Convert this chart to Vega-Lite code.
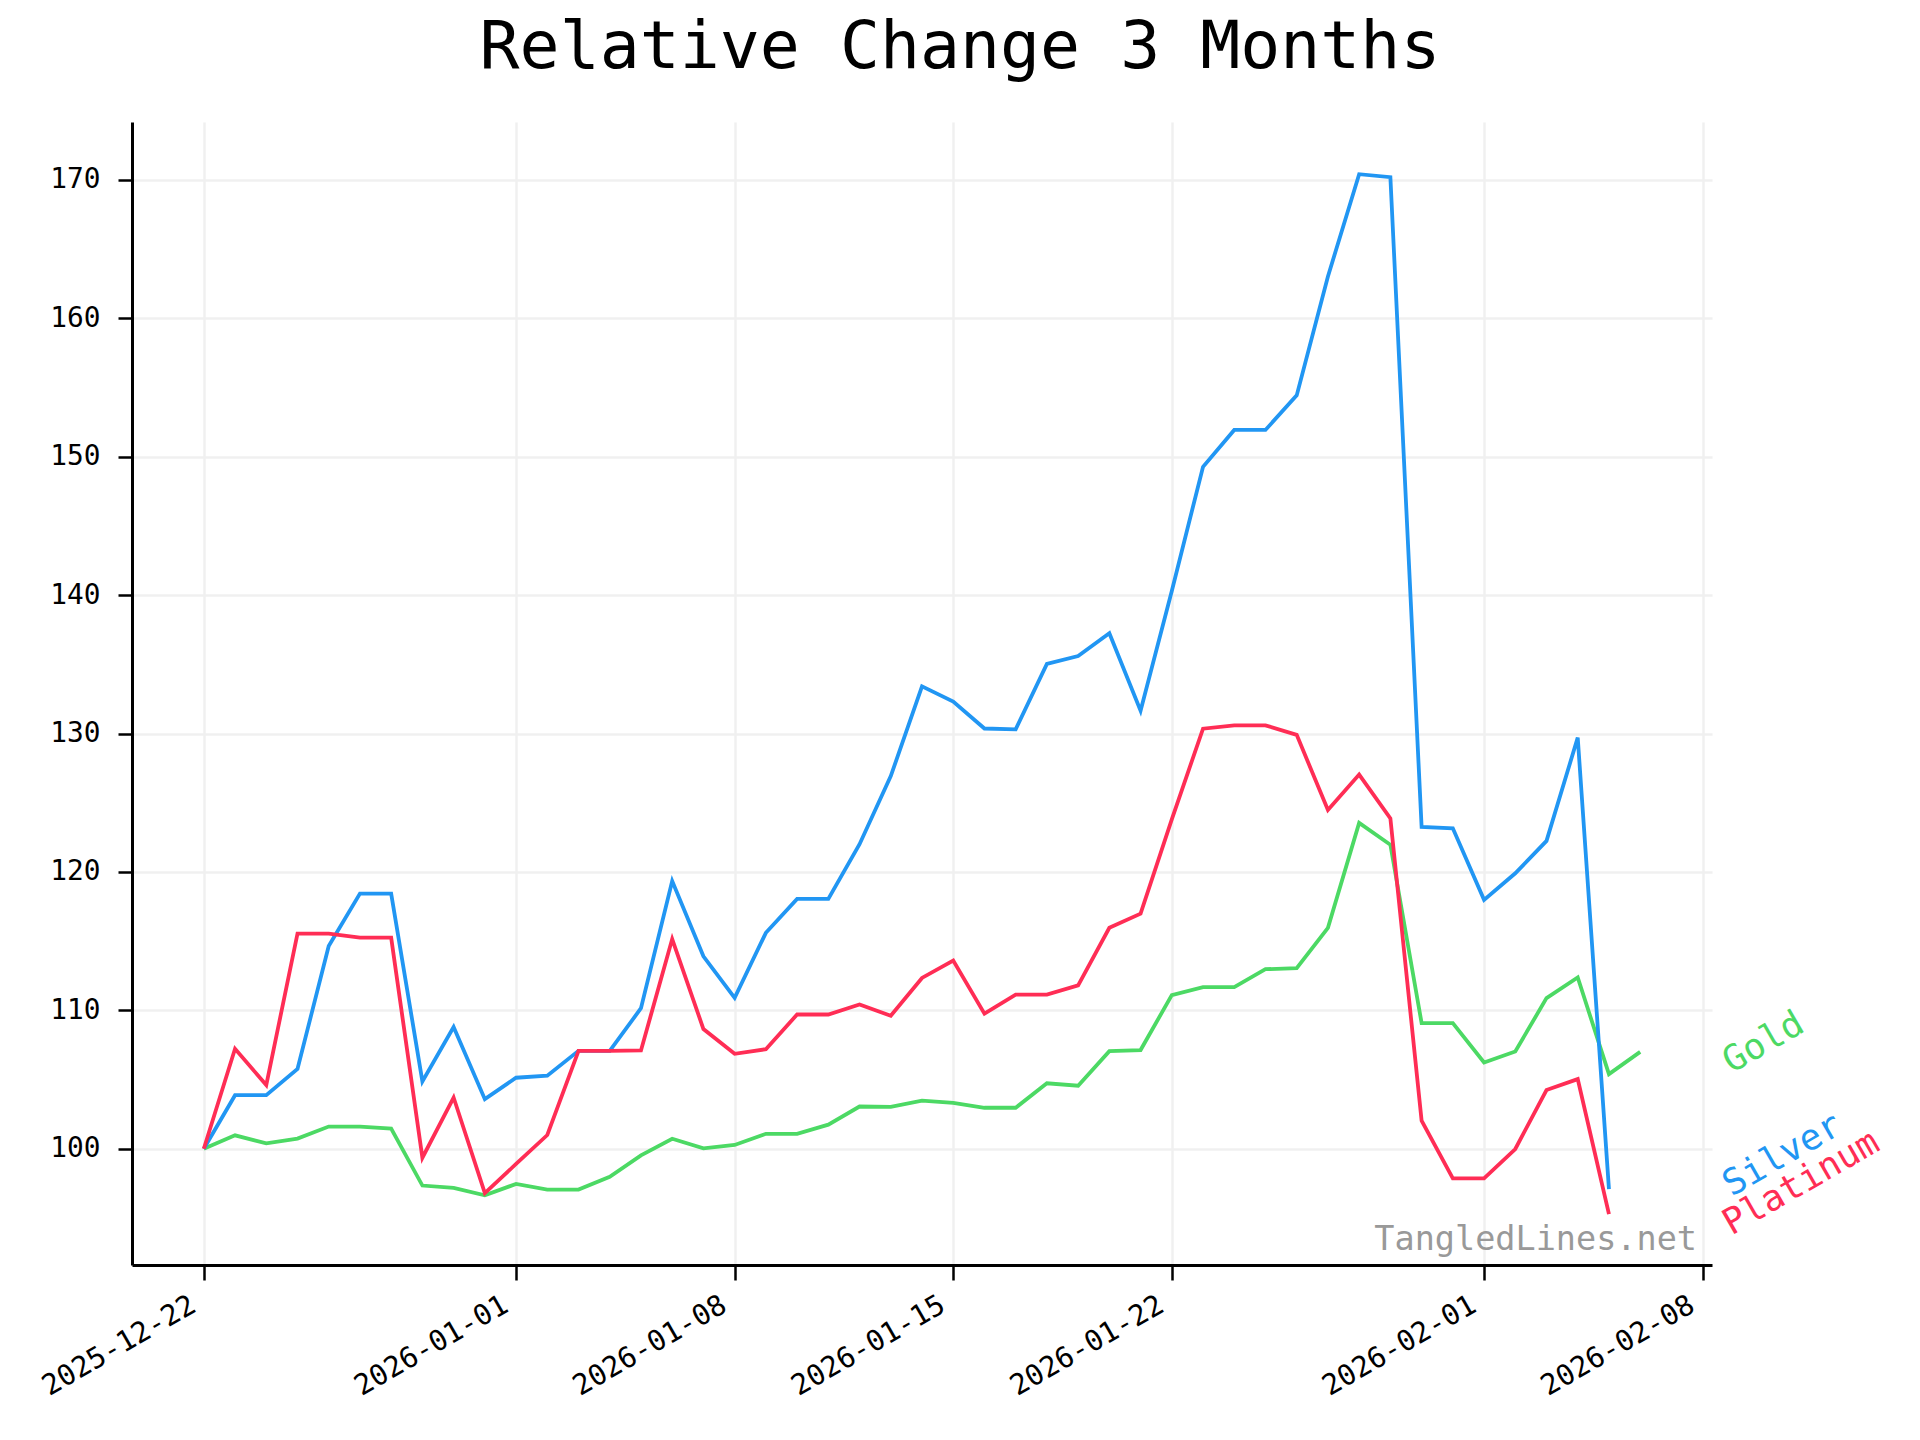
{
  "$schema": "https://vega.github.io/schema/vega-lite/v6.json",
  "width": 1580,
  "height": 1143,
  "autosize": {"type": "none"},
  "padding": {"left": 132, "top": 122, "right": 208, "bottom": 175},
  "background": "white",
  "title": {"text": "Relative Change 3 Months", "fontSize": 66.5, "font": "DejaVu Sans Mono", "fontWeight": "normal", "color": "black", "anchor": "middle", "dx": 38, "offset": 41},
  "config": {"view": {"stroke": null}, "font": "DejaVu Sans Mono"},
  "datasets": {
    "prices": [
      {"date": "2025-12-22", "Gold": 100, "Silver": 100, "Platinum": 100},
      {"date": "2025-12-23", "Gold": 100.97, "Silver": 103.87, "Platinum": 107.22},
      {"date": "2025-12-24", "Gold": 100.39, "Silver": 103.87, "Platinum": 104.6},
      {"date": "2025-12-25", "Gold": 100.73, "Silver": 105.76, "Platinum": 115.54},
      {"date": "2025-12-26", "Gold": 101.6, "Silver": 114.65, "Platinum": 115.54},
      {"date": "2025-12-27", "Gold": 101.6, "Silver": 118.43, "Platinum": 115.25},
      {"date": "2025-12-28", "Gold": 101.45, "Silver": 118.43, "Platinum": 115.25},
      {"date": "2025-12-29", "Gold": 97.34, "Silver": 104.87, "Platinum": 99.35},
      {"date": "2025-12-30", "Gold": 97.17, "Silver": 108.79, "Platinum": 103.7},
      {"date": "2025-12-31", "Gold": 96.63, "Silver": 103.58, "Platinum": 96.8},
      {"date": "2026-01-01", "Gold": 97.46, "Silver": 105.13, "Platinum": 98.9},
      {"date": "2026-01-02", "Gold": 97.05, "Silver": 105.28, "Platinum": 100.99},
      {"date": "2026-01-03", "Gold": 97.05, "Silver": 107.07, "Platinum": 107.07},
      {"date": "2026-01-04", "Gold": 97.97, "Silver": 107.07, "Platinum": 107.07},
      {"date": "2026-01-05", "Gold": 99.52, "Silver": 110.15, "Platinum": 107.1},
      {"date": "2026-01-06", "Gold": 100.72, "Silver": 119.34, "Platinum": 115.15},
      {"date": "2026-01-07", "Gold": 100.03, "Silver": 113.9, "Platinum": 108.65},
      {"date": "2026-01-08", "Gold": 100.27, "Silver": 110.9, "Platinum": 106.86},
      {"date": "2026-01-09", "Gold": 101.08, "Silver": 115.6, "Platinum": 107.19},
      {"date": "2026-01-10", "Gold": 101.08, "Silver": 118.05, "Platinum": 109.7},
      {"date": "2026-01-11", "Gold": 101.74, "Silver": 118.05, "Platinum": 109.7},
      {"date": "2026-01-12", "Gold": 103.05, "Silver": 122.0, "Platinum": 110.42},
      {"date": "2026-01-13", "Gold": 103.02, "Silver": 126.92, "Platinum": 109.61},
      {"date": "2026-01-14", "Gold": 103.47, "Silver": 133.41, "Platinum": 112.34},
      {"date": "2026-01-15", "Gold": 103.32, "Silver": 132.31, "Platinum": 113.6},
      {"date": "2026-01-16", "Gold": 102.96, "Silver": 130.36, "Platinum": 109.76},
      {"date": "2026-01-17", "Gold": 102.96, "Silver": 130.3, "Platinum": 111.14},
      {"date": "2026-01-18", "Gold": 104.73, "Silver": 135.03, "Platinum": 111.14},
      {"date": "2026-01-19", "Gold": 104.55, "Silver": 135.6, "Platinum": 111.8},
      {"date": "2026-01-20", "Gold": 107.05, "Silver": 137.24, "Platinum": 115.96},
      {"date": "2026-01-21", "Gold": 107.13, "Silver": 131.65, "Platinum": 116.98},
      {"date": "2026-01-22", "Gold": 111.1, "Silver": 140.3, "Platinum": 123.8},
      {"date": "2026-01-23", "Gold": 111.67, "Silver": 149.27, "Platinum": 130.35},
      {"date": "2026-01-24", "Gold": 111.67, "Silver": 151.93, "Platinum": 130.59},
      {"date": "2026-01-25", "Gold": 112.97, "Silver": 151.93, "Platinum": 130.59},
      {"date": "2026-01-26", "Gold": 113.05, "Silver": 154.43, "Platinum": 129.9},
      {"date": "2026-01-27", "Gold": 115.96, "Silver": 163.02, "Platinum": 124.47},
      {"date": "2026-01-28", "Gold": 123.54, "Silver": 170.41, "Platinum": 127.03},
      {"date": "2026-01-29", "Gold": 121.96, "Silver": 170.19, "Platinum": 123.87},
      {"date": "2026-01-30", "Gold": 109.08, "Silver": 123.25, "Platinum": 102.02},
      {"date": "2026-01-31", "Gold": 109.08, "Silver": 123.15, "Platinum": 97.86},
      {"date": "2026-02-01", "Gold": 106.23, "Silver": 117.98, "Platinum": 97.86},
      {"date": "2026-02-02", "Gold": 107.03, "Silver": 119.9, "Platinum": 99.98},
      {"date": "2026-02-03", "Gold": 110.88, "Silver": 122.24, "Platinum": 104.24},
      {"date": "2026-02-04", "Gold": 112.37, "Silver": 129.7, "Platinum": 105.03},
      {"date": "2026-02-05", "Gold": 105.39, "Silver": 97.09, "Platinum": 95.28},
      {"date": "2026-02-06", "Gold": 107.0}
    ],
    "labels": [
      {"series": "Gold", "date": "2026-02-08T18:00:00Z", "value": 106.1},
      {"series": "Silver", "date": "2026-02-08T18:00:00Z", "value": 97.2},
      {"series": "Platinum", "date": "2026-02-08T18:00:00Z", "value": 94.4}
    ]
  },
  "layer": [
    {
      "data": {"name": "prices"},
      "transform": [{"fold": ["Gold", "Silver", "Platinum"], "as": ["series", "value"]}],
      "mark": {"type": "line", "strokeWidth": 3.8},
      "encoding": {
        "x": {
          "field": "date", "type": "temporal",
          "scale": {"type": "utc", "domain": [
            {"year": 2025, "month": 12, "date": 19, "hours": 16, "minutes": 48, "utc": true},
            {"year": 2026, "month": 2, "date": 8, "hours": 7, "minutes": 12, "utc": true}
          ]},
          "axis": {
            "title": null,
            "values": [
              {"year": 2025, "month": 12, "date": 22, "utc": true},
              {"year": 2026, "month": 1, "date": 1, "utc": true},
              {"year": 2026, "month": 1, "date": 8, "utc": true},
              {"year": 2026, "month": 1, "date": 15, "utc": true},
              {"year": 2026, "month": 1, "date": 22, "utc": true},
              {"year": 2026, "month": 2, "date": 1, "utc": true},
              {"year": 2026, "month": 2, "date": 8, "utc": true}
            ],
            "format": "%Y-%m-%d",
            "labelFont": "DejaVu Sans Mono", "labelFontSize": 28.5, "labelColor": "black",
            "labelAngle": -30, "labelAlign": "right", "labelBaseline": "top",
            "labelPadding": 10, "labelOffset": -18, "labelOverlap": false, "labelFlush": false,
            "domainColor": "black", "domainWidth": 3,
            "tickColor": "black", "tickWidth": 2.5, "tickSize": 15,
            "grid": true, "gridColor": "#f0f0f0", "gridWidth": 2.5
          }
        },
        "y": {
          "field": "value", "type": "quantitative",
          "scale": {"domain": [91.6, 174.18], "nice": false, "zero": false},
          "axis": {
            "title": null,
            "values": [100, 110, 120, 130, 140, 150, 160, 170],
            "labelFont": "DejaVu Sans Mono", "labelFontSize": 27.8, "labelColor": "black",
            "labelPadding": 18,
            "domainColor": "black", "domainWidth": 3,
            "tickColor": "black", "tickWidth": 2.5, "tickSize": 14,
            "grid": true, "gridColor": "#f0f0f0", "gridWidth": 2.5
          }
        },
        "color": {
          "field": "series", "type": "nominal",
          "scale": {"domain": ["Gold", "Silver", "Platinum"], "range": ["#4cd964", "#2196f3", "#ff2d55"]},
          "legend": null
        }
      }
    },
    {
      "data": {"name": "labels"},
      "mark": {"type": "text", "angle": -30, "align": "left", "baseline": "middle", "fontSize": 36, "font": "DejaVu Sans Mono"},
      "encoding": {
        "x": {"field": "date", "type": "temporal"},
        "y": {"field": "value", "type": "quantitative"},
        "text": {"field": "series"},
        "color": {"field": "series", "type": "nominal", "legend": null}
      }
    },
    {
      "data": {"values": [{"site": "TangledLines.net"}]},
      "mark": {"type": "text", "align": "right", "baseline": "alphabetic", "fontSize": 33.5, "font": "DejaVu Sans Mono", "color": "#999999"},
      "encoding": {
        "x": {"datum": {"year": 2026, "month": 2, "date": 7, "hours": 19, "minutes": 40, "utc": true}, "type": "temporal"},
        "y": {"datum": 92.71, "type": "quantitative"},
        "text": {"field": "site"}
      }
    }
  ]
}
